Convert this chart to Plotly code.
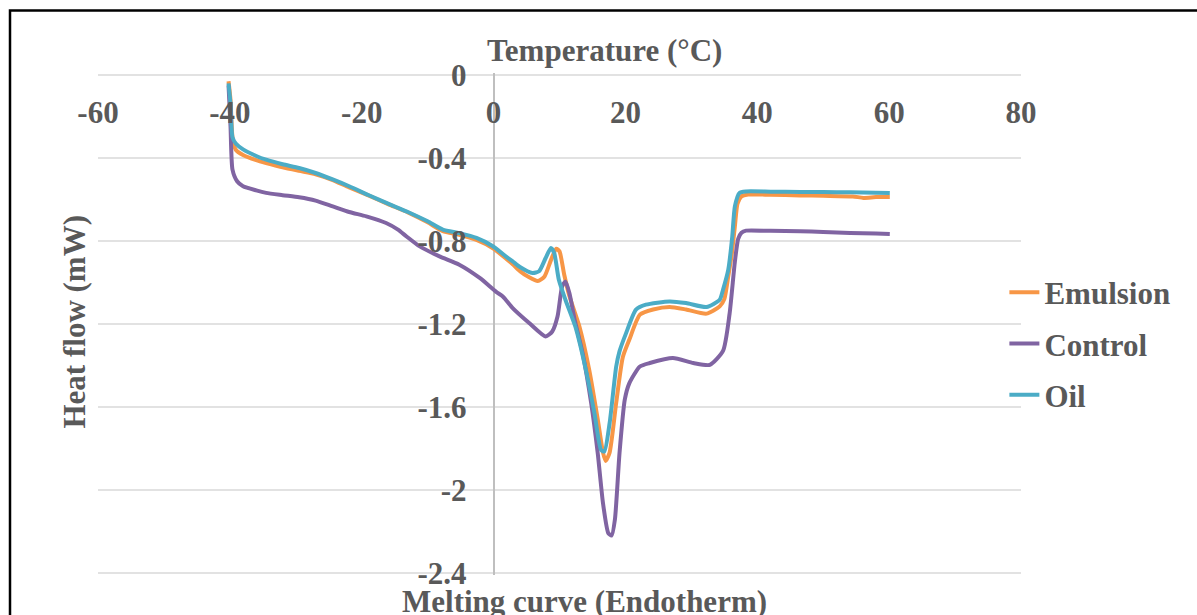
import plotly.graph_objects as go

# ---------------- data ----------------
emulsion_x = [-40.2, -39.9, -39.6, -39.1, -38.0, -36.0, -34.5, -32.0, -29.5, -27.0, -24.5, -21.9,
              -19.0, -16.0, -13.0, -10.0, -7.7, -5.2, -2.6, -0.1, 1.9, 2.9, 4.0, 5.4, 6.7, 7.7,
              8.7, 9.5, 10.0, 10.7, 11.5, 13.0, 14.5, 15.8, 16.6, 17.0, 17.6, 18.6, 19.6, 20.6,
              22.2, 24.2, 26.7, 29.2, 32.3, 34.3, 35.0, 35.6, 36.1, 36.6, 37.0, 37.6, 38.6,
              42.0, 46.5, 50.0, 54.5, 56.1, 58.0, 60.1]
emulsion_y = [-0.03, -0.12, -0.30, -0.36, -0.385, -0.41, -0.424, -0.445, -0.462, -0.478, -0.505, -0.542,
              -0.58, -0.622, -0.662, -0.71, -0.752, -0.77, -0.795, -0.835, -0.885, -0.912, -0.945, -0.975, -0.993, -0.972,
              -0.892, -0.837, -0.85, -0.96, -1.065, -1.21, -1.42, -1.66, -1.82, -1.86, -1.82, -1.58, -1.36, -1.275,
              -1.155, -1.13, -1.118, -1.13, -1.15, -1.115, -1.08, -0.97, -0.87, -0.73, -0.62, -0.585, -0.576,
              -0.577, -0.58, -0.582, -0.585, -0.592, -0.588, -0.588]

control_x = [-40.2, -39.9, -39.6, -38.9, -38.0, -36.0, -34.5, -32.0, -29.5, -27.0, -24.4, -21.9,
             -19.3, -16.3, -14.5, -13.2, -11.2, -8.2, -5.2, -2.1, 0.4, 1.4, 2.9, 5.4, 7.9, 8.9,
             9.7, 10.4, 10.9, 11.5, 12.3, 13.5, 14.8, 15.8, 16.6, 17.4, 17.9, 18.4, 19.1, 19.9,
             20.6, 22.2, 23.7, 27.2, 30.3, 32.8, 34.8, 35.8, 36.6, 37.1, 37.6, 38.3,
             42.0, 46.5, 50.0, 54.1, 58.0, 60.1]
control_y = [-0.05, -0.247, -0.456, -0.512, -0.536, -0.556, -0.568, -0.579, -0.589, -0.605, -0.633, -0.66,
             -0.681, -0.713, -0.745, -0.778, -0.826, -0.874, -0.914, -0.978, -1.045, -1.067, -1.123, -1.195, -1.26, -1.236,
             -1.164, -1.019, -0.995, -1.051, -1.18, -1.34, -1.581, -1.823, -2.064, -2.208, -2.22, -2.144, -1.823, -1.565,
             -1.485, -1.405, -1.388, -1.364, -1.388, -1.397, -1.33, -1.15, -0.9, -0.79, -0.76, -0.75,
             -0.751, -0.753, -0.756, -0.761, -0.764, -0.766]

oil_x = [-40.2, -39.9, -39.6, -39.1, -38.0, -36.0, -34.5, -32.0, -29.5, -27.0, -24.5, -21.9,
         -19.0, -16.0, -13.0, -10.0, -7.7, -5.2, -2.6, -0.1, 1.9, 2.9, 4.0, 5.9, 6.9, 7.9,
         8.7, 9.2, 9.9, 10.9, 12.4, 14.0, 15.3, 16.3, 16.8, 17.6, 18.6, 19.1, 20.1, 21.6,
         23.1, 26.7, 29.2, 32.3, 34.3, 34.8, 35.6, 36.2, 36.6, 37.3, 38.3,
         42.0, 46.5, 50.0, 54.1, 58.0, 60.1]
oil_y = [-0.04, -0.14, -0.30, -0.33, -0.358, -0.39, -0.408, -0.43, -0.448, -0.472, -0.502, -0.536,
         -0.578, -0.62, -0.66, -0.705, -0.745, -0.762, -0.785, -0.825, -0.875, -0.898, -0.925, -0.954, -0.946, -0.882,
         -0.834, -0.858, -0.987, -1.083, -1.212, -1.421, -1.63, -1.807, -1.815, -1.678, -1.405, -1.332, -1.244, -1.131,
         -1.107, -1.091, -1.099, -1.118, -1.083, -1.035, -0.938, -0.78, -0.633, -0.568, -0.561,
         -0.562, -0.564, -0.564, -0.565, -0.567, -0.568]

x_tickvals = [-60, -40, -20, 0, 20, 40, 60, 80]
x_ticktext = ["-60", "-40", "-20", "0", "20", "40", "60", "80"]
y_tickvals = [0, -0.4, -0.8, -1.2, -1.6, -2.0, -2.4]
y_ticktext = ["0", "-0.4", "-0.8", "-1.2", "-1.6", "-2", "-2.4"]

series_names = ["Emulsion", "Control", "Oil"]
series_colors = ["#F79646", "#8064A2", "#4BACC6"]

# ---------------- figure ----------------
FONT = "Liberation Serif, Times New Roman, serif"
TXT = "#595959"
T, B, H = 73, 40, 615
PH = H - T - B  # plot height in px


def py(p):
    """pixel row -> paper y"""
    return (H - B - p) / PH


fig = go.Figure()
for i, (nm, xs, ys) in enumerate(zip(series_names,
                                     [emulsion_x, control_x, oil_x],
                                     [emulsion_y, control_y, oil_y])):
    fig.add_trace(go.Scatter(
        x=xs, y=ys, name=nm, mode="lines", legendgroup=nm,
        line=dict(color=series_colors[i], width=4, shape="spline", smoothing=0.6),
    ))

# horizontal gridlines at each y tick (drawn through the y scale)
grid_shapes = [
    dict(type="line", xref="paper", yref="y", x0=0, x1=1, y0=v, y1=v,
         line=dict(color="#D9D9D9", width=1.5), layer="below")
    for v in y_tickvals
]

fig.update_layout(
    width=1197, height=615,
    margin=dict(l=98, r=176, t=T, b=B),
    paper_bgcolor="white", plot_bgcolor="white",
    font=dict(family=FONT, color=TXT, size=31, weight="bold"),
    showlegend=True,
    legend=dict(
        x=0.982, y=py(265.5), xanchor="left", yanchor="top",
        font=dict(family=FONT, size=31, color=TXT, weight="bold"),
        traceorder="grouped", tracegroupgap=8,
        bgcolor="rgba(0,0,0,0)", itemwidth=30,
    ),
    xaxis=dict(
        range=[-60, 80], side="top", ticklabelposition="inside",
        ticklabeloverflow="allow",
        tickvals=x_tickvals, ticktext=x_ticktext,
        tickfont=dict(family=FONT, size=31, color=TXT, weight="bold"),
        ticklabelstandoff=25,
        showgrid=False, zeroline=True, zerolinecolor="#BFBFBF", zerolinewidth=1.5,
        showline=False, ticks="",
    ),
    yaxis=dict(
        range=[-2.41, 0.01], anchor="free", position=60 / 140, side="left",
        tickvals=y_tickvals, ticktext=y_ticktext,
        tickfont=dict(family=FONT, size=31, color=TXT, weight="bold"),
        ticklabelstandoff=27,
        showgrid=False, zeroline=False, showline=False, ticks="",
    ),
    annotations=[
        dict(text="Temperature (°C)", xref="paper", yref="paper", x=0.549, y=py(50),
             xanchor="center", yanchor="middle", showarrow=False,
             font=dict(family=FONT, size=31, color=TXT, weight="bold")),
        dict(text="Melting curve (Endotherm)", xref="paper", yref="paper", x=0.527, y=py(601),
             xanchor="center", yanchor="middle", showarrow=False,
             font=dict(family=FONT, size=31, color=TXT, weight="bold")),
        dict(text="Heat flow (mW)", xref="paper", yref="paper", x=-0.026, y=py(321.5),
             xanchor="center", yanchor="middle", showarrow=False, textangle=-90,
             font=dict(family=FONT, size=31, color=TXT, weight="bold")),
    ],
    shapes=grid_shapes + [
        dict(type="rect", xref="paper", yref="paper",
             x0=(10 - 98) / 923, x1=(1215 - 98) / 923,
             y0=py(640), y1=py(10.5),
             line=dict(color="black", width=2.5), fillcolor="rgba(0,0,0,0)", layer="above"),
    ],
)

fig.write_html("out.html")
